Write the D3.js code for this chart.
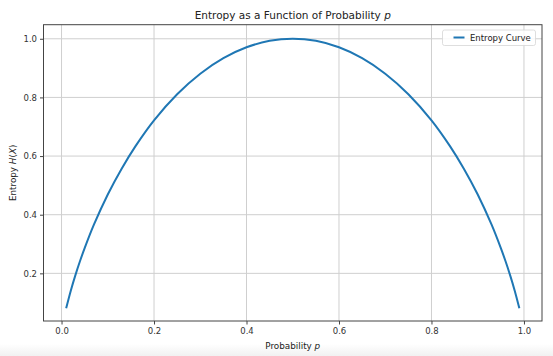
<!DOCTYPE html>
<html>
<head>
<meta charset="utf-8">
<script src="https://cdn.jsdelivr.net/npm/d3@7"></script>
<style>
  html, body { margin: 0; padding: 0; background: #ffffff; }
  svg { display: block; font-family: "DejaVu Sans", sans-serif; }
</style>
</head>
<body>
<svg id="chart" width="553" height="356"></svg>
<script>
// Data
const probabilities = [0.01, 0.02, 0.03, 0.04, 0.05, 0.07, 0.10, 0.13, 0.16, 0.20, 0.25, 0.30, 0.35, 0.40, 0.45, 0.50,
                       0.55, 0.60, 0.65, 0.70, 0.75, 0.80, 0.84, 0.87, 0.90, 0.93, 0.95, 0.96, 0.97, 0.98, 0.99];
const entropyValues = [0.081, 0.141, 0.194, 0.242, 0.286, 0.366, 0.469, 0.557, 0.634, 0.722, 0.811, 0.881, 0.934, 0.971, 0.993, 1.000,
                       0.993, 0.971, 0.934, 0.881, 0.811, 0.722, 0.634, 0.557, 0.469, 0.366, 0.286, 0.242, 0.194, 0.141, 0.081];
const xTicks = [0.0, 0.2, 0.4, 0.6, 0.8, 1.0];
const yTicks = [0.2, 0.4, 0.6, 0.8, 1.0];
const titleText = "Entropy as a Function of Probability ";
const xLabelText = "Probability ";
const yLabelText = "Entropy ";
const legendLabel = "Entropy Curve";

const svg = d3.select("#chart");
const W = 553, H = 356;
const plot = { left: 43.5, right: 542, top: 24.7, bottom: 321 };

// faint gray strip at bottom of the image
const grad = svg.append("defs").append("linearGradient").attr("id", "fade")
  .attr("x1", 0).attr("x2", 0).attr("y1", 0).attr("y2", 1);
grad.append("stop").attr("offset", "0%").attr("stop-color", "#ffffff");
grad.append("stop").attr("offset", "100%").attr("stop-color", "#f1f1f1");
svg.append("rect").attr("x", 0).attr("y", 344).attr("width", W).attr("height", 12).attr("fill", "url(#fade)");

const x = d3.scaleLinear().domain([-0.039, 1.039]).range([plot.left, plot.right]);
const y = d3.scaleLinear().domain([0.0375, 1.048]).range([plot.bottom, plot.top]);

// grid
const g = svg.append("g");
g.selectAll(".gx").data(xTicks).enter().append("line")
  .attr("x1", d => x(d)).attr("x2", d => x(d))
  .attr("y1", plot.top).attr("y2", plot.bottom)
  .attr("stroke", "#cfcfcf").attr("stroke-width", 1);
g.selectAll(".gy").data(yTicks).enter().append("line")
  .attr("x1", plot.left).attr("x2", plot.right)
  .attr("y1", d => y(d)).attr("y2", d => y(d))
  .attr("stroke", "#cfcfcf").attr("stroke-width", 1);

// curve
const pts = probabilities.map((p, i) => [p, entropyValues[i]]);
const line = d3.line().x(d => x(d[0])).y(d => y(d[1])).curve(d3.curveCatmullRom.alpha(0.5));
svg.append("path").datum(pts).attr("d", line)
  .attr("fill", "none").attr("stroke", "#1f77b4").attr("stroke-width", 2);

// axes
const xAxis = d3.axisBottom(x).tickValues(xTicks).tickFormat(d3.format(".1f")).tickSizeOuter(0).tickSize(3.5).tickPadding(3);
const yAxis = d3.axisLeft(y).tickValues(yTicks).tickFormat(d3.format(".1f")).tickSizeOuter(0).tickSize(3.5).tickPadding(3);
const gx = svg.append("g").attr("transform", `translate(0,${plot.bottom})`).call(xAxis);
const gy = svg.append("g").attr("transform", `translate(${plot.left},0)`).call(yAxis);
[gx, gy].forEach(a => {
  a.select(".domain").remove();
  a.selectAll("line").attr("stroke", "#444");
  a.selectAll("text").attr("fill", "#333").style("font-size", "8.5px").style("font-family", "DejaVu Sans");
});

// spines
svg.append("rect").attr("x", plot.left).attr("y", plot.top)
  .attr("width", plot.right - plot.left).attr("height", plot.bottom - plot.top)
  .attr("fill", "none").attr("stroke", "#444").attr("stroke-width", 1);

// title
const t = svg.append("text").attr("x", (plot.left + plot.right) / 2).attr("y", 19)
  .attr("text-anchor", "middle").attr("fill", "#222").style("font-size", "10.5px");
t.append("tspan").text(titleText);
t.append("tspan").attr("font-style", "italic").text("p");

// x label
const xl = svg.append("text").attr("x", (plot.left + plot.right) / 2).attr("y", 349)
  .attr("text-anchor", "middle").attr("fill", "#222").style("font-size", "8.8px");
xl.append("tspan").text(xLabelText);
xl.append("tspan").attr("font-style", "italic").text("p");

// y label
const yl = svg.append("text").attr("transform", `translate(16,${(plot.top + plot.bottom) / 2}) rotate(-90)`)
  .attr("text-anchor", "middle").attr("fill", "#222").style("font-size", "8.8px");
yl.append("tspan").text(yLabelText);
yl.append("tspan").attr("font-style", "italic").text("H");
yl.append("tspan").text("(");
yl.append("tspan").attr("font-style", "italic").text("X");
yl.append("tspan").text(")");

// legend
const lg = svg.append("g");
lg.append("rect").attr("x", 442.5).attr("y", 30).attr("width", 93).attr("height", 15.5)
  .attr("rx", 2).attr("fill", "#ffffff").attr("fill-opacity", 0.85).attr("stroke", "#d6d6d6").attr("stroke-width", 0.8);
lg.append("line").attr("x1", 453.5).attr("x2", 464.5).attr("y1", 37.5).attr("y2", 37.5)
  .attr("stroke", "#1f77b4").attr("stroke-width", 2);
lg.append("text").attr("x", 470).attr("y", 40.5).attr("fill", "#222").style("font-size", "8.5px").text(legendLabel);
</script>
</body>
</html>
